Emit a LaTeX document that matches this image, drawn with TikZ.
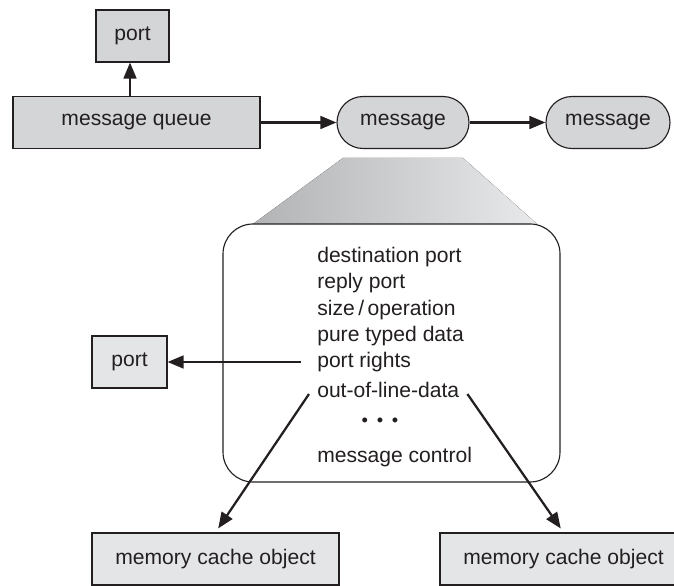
\documentclass[tikz,border=0pt]{standalone}
\usepackage{fontspec}
\setmainfont{Liberation Sans}
\usetikzlibrary{arrows.meta}

\definecolor{boxfill}{RGB}{212,213,215}
\definecolor{boxfilllight}{RGB}{228,229,231}
\definecolor{ink}{RGB}{35,31,32}
\definecolor{fanleft}{RGB}{178,179,181}
\definecolor{fanright}{RGB}{232,233,234}

\begin{document}
\begin{tikzpicture}[
    font=\fontsize{15}{18}\selectfont,
    box/.style={draw=ink, line width=0.8pt, fill=boxfill, text=ink, minimum height=1.3cm, inner sep=0pt},
    lightbox/.style={box, fill=boxfilllight},
    pill/.style={box, rounded corners=0.65cm},
    field/.style={anchor=west, text=ink, inner sep=0.2cm},
    arr/.style={draw=ink, line width=1.6pt, -{Triangle[length=0.4cm,width=0.32cm]}}
  ]
  \useasboundingbox (0cm,0cm) rectangle (16.85cm,14.625cm);
  \clip (0cm,0cm) rectangle (16.85cm,14.625cm);

  % queue and messages
  \node[box, minimum width=1.825cm]  (topport) at (3.3125cm,13.725cm)  {port};
  \node[box, minimum width=6.175cm]  (queue)   at (3.4125cm,11.5625cm) {message queue};
  \node[pill, minimum width=3.3cm]   (msgA)    at (10.075cm,11.5625cm) {message};
  \node[pill, minimum width=3.1cm]   (msgB)    at (15.2cm,11.5625cm)   {message};

  \path (queue.north -| 3.25cm,0) edge[arr] (topport.south -| 3.25cm,0);
  \path (queue) edge[arr] (msgA);
  \path (msgA)  edge[arr] (msgB);

  % blow-up of one message
  \fill[left color=fanleft, right color=fanright]
    (8.575cm,10.675cm) -- (11.575cm,10.675cm) -- (13.425cm,9.025cm) -- (6.325cm,9.025cm) -- cycle;
  \node[draw=ink, line width=0.8pt, fill=white, rounded corners=0.75cm,
        minimum width=8.425cm, minimum height=6.45cm] (body) at (9.7875cm,5.8cm) {};

  \node[field] (dest)    at (7.725cm,8.2cm)   {destination port};
  \node[field] (reply)   at (7.725cm,7.55cm)  {reply port};
  \node[field] (sizeop)  at (7.725cm,6.875cm) {size\,/\,operation};
  \node[field] (pure)    at (7.725cm,6.225cm) {pure typed data};
  \node[field] (rights)  at (7.725cm,5.575cm) {port rights};
  \node[field] (ool)     at (7.725cm,4.875cm) {out-of-line-data};
  \node[text=ink, font=\fontsize{13}{15}\selectfont] (dots) at (9.5cm,4.075cm)
    {\textbullet\hspace{0.22cm}\textbullet\hspace{0.22cm}\textbullet};
  \node[field] (control) at (7.725cm,3.2cm)   {message control};

  % targets
  \node[lightbox, minimum width=1.875cm] (sideport) at (3.2375cm,5.575cm) {port};
  \node[lightbox, minimum width=6.175cm] (memA)     at (5.3875cm,0.65cm)  {memory cache object};
  \node[lightbox, minimum width=6.175cm] (memB)     at (14.0875cm,0.65cm) {memory cache object};

  \path ([xshift=-0.2cm]rights.west) edge[arr] (sideport.east);
  \path ([yshift=-0.1cm]ool.west) edge[arr, shorten >=0.12cm] (memA.north);
  \path ([yshift=-0.1cm]ool.east) edge[arr, shorten >=0.12cm] (memB.north);
\end{tikzpicture}
\end{document}
